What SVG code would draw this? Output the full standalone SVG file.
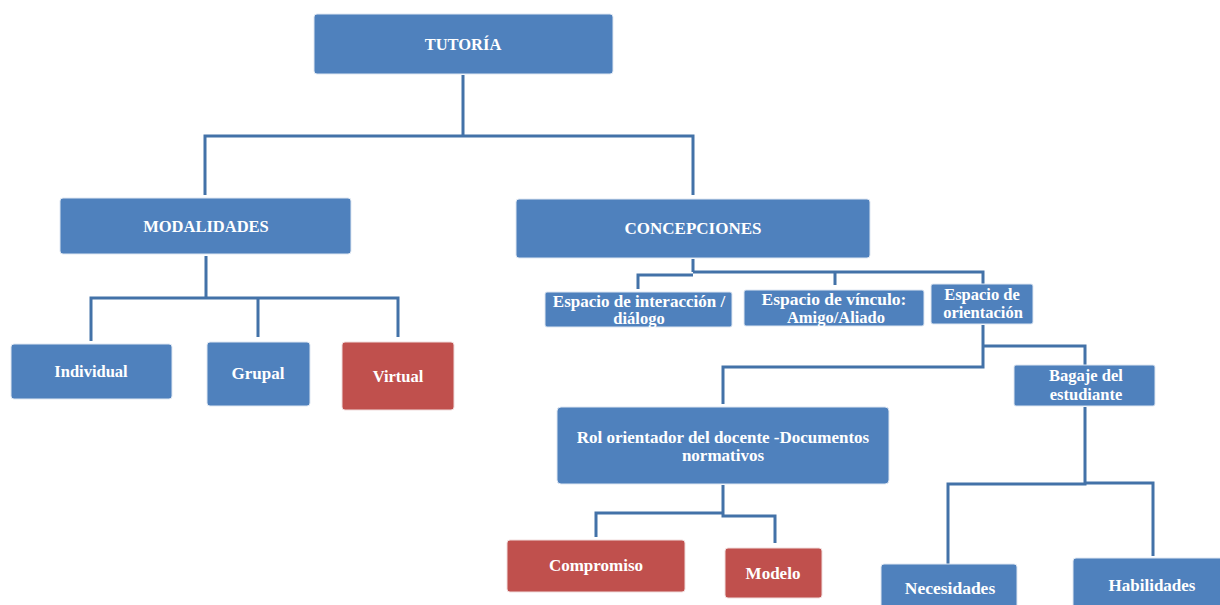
<svg xmlns="http://www.w3.org/2000/svg" width="1220" height="605" viewBox="0 0 1220 605">
<style>
.b{fill:#4F81BD;stroke:#dfe7f2;stroke-width:1}
.r{fill:#C0504D;stroke:#f0dcdc;stroke-width:1}
.t{font-family:"Liberation Serif","Times New Roman",serif;font-weight:bold;fill:#ffffff;text-anchor:middle;font-size:16.5px}
.c{fill:none;stroke:#4372A8;stroke-width:3;stroke-linejoin:miter}
</style>
<rect width="1220" height="605" fill="#ffffff"/>
<g id="connectors">
<path class="c" d="M463,75 V136 M205,195 V136 H693 V195"/>
<path class="c" d="M206,256 V298 M91,341 V298 H398 V337 M258,298 V337"/>
<path class="c" d="M693,259 V272 M638,289 V275 H693 M693,272 H983 V284 M835,272 V285"/>
<path class="c" d="M983,325 V367 H723 V404 M983,346 H1085 V365"/>
<path class="c" d="M723,485 V516 H775 V543 M723,513 H596 V537"/>
<path class="c" d="M1085,407 V484 H948 V565 M1085,483 H1153 V556"/>
</g>
<g id="tutoria"><rect class="b" x="314" y="14" width="299" height="60" rx="3"/><text class="t" x="463" y="50">TUTORÍA</text></g>
<g id="modalidades"><rect class="b" x="60" y="198" width="291" height="56" rx="3"/><text class="t" x="206" y="232">MODALIDADES</text></g>
<g id="concepciones"><rect class="b" x="516" y="199" width="354" height="59" rx="3"/><text class="t" x="693" y="234" style="font-size:17px">CONCEPCIONES</text></g>
<g id="individual"><rect class="b" x="11" y="344" width="161" height="55" rx="3"/><text class="t" x="91" y="377">Individual</text></g>
<g id="grupal"><rect class="b" x="207" y="342" width="103" height="64" rx="3"/><text class="t" x="258" y="379" style="font-size:17px">Grupal</text></g>
<g id="virtual"><rect class="r" x="342" y="342" width="112" height="68" rx="3"/><text class="t" x="398" y="382">Virtual</text></g>
<g id="esp-interaccion"><rect class="b" x="545" y="292" width="187" height="35" rx="2"/><text class="t" x="639" y="307" style="font-size:17px">Espacio de interacción /</text><text class="t" x="639" y="324">diálogo</text></g>
<g id="esp-vinculo"><rect class="b" x="744" y="290" width="180" height="36" rx="2"/><text class="t" x="834" y="305" style="font-size:17.5px">Espacio de vínculo:</text><text class="t" x="836" y="323">Amigo/Aliado</text></g>
<g id="esp-orientacion"><rect class="b" x="931" y="284" width="102" height="40" rx="2"/><text class="t" x="982" y="300" style="font-size:16.5px">Espacio de</text><text class="t" x="983" y="318" style="font-size:16.5px">orientación</text></g>
<g id="bagaje"><rect class="b" x="1014" y="365" width="141" height="41" rx="2"/><text class="t" x="1086" y="381" style="font-size:16.5px">Bagaje del</text><text class="t" x="1086" y="400" style="font-size:16.5px">estudiante</text></g>
<g id="rol"><rect class="b" x="557" y="407" width="332" height="77" rx="4"/><text class="t" x="723" y="443" style="font-size:17px">Rol orientador del docente -Documentos</text><text class="t" x="723" y="461" style="font-size:17px">normativos</text></g>
<g id="compromiso"><rect class="r" x="507" y="540" width="178" height="52" rx="3"/><text class="t" x="596" y="571" style="font-size:17px">Compromiso</text></g>
<g id="modelo"><rect class="r" x="725" y="548" width="97" height="50" rx="3"/><text class="t" x="773" y="579" style="font-size:17px">Modelo</text></g>
<g id="necesidades"><rect class="b" x="881" y="564" width="136" height="46" rx="3"/><text class="t" x="950" y="594" style="font-size:17.5px">Necesidades</text></g>
<g id="habilidades"><rect class="b" x="1073" y="558" width="152" height="52" rx="3"/><text class="t" x="1152" y="591" style="font-size:17px">Habilidades</text></g>
</svg>
